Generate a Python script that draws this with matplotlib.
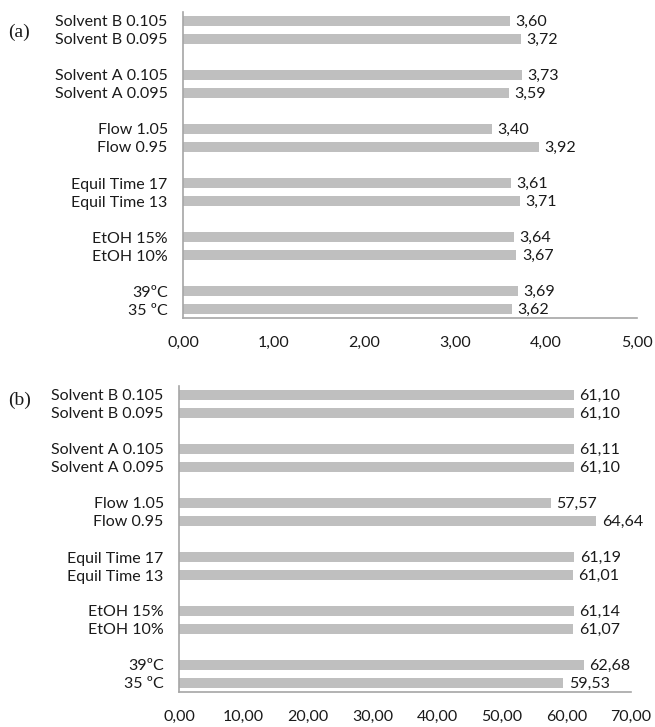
import matplotlib.pyplot as plt
from matplotlib.ticker import FuncFormatter

# categories, top to bottom
labels = ["Solvent B 0.105", "Solvent B 0.095",
          "Solvent A 0.105", "Solvent A 0.095",
          "Flow 1.05", "Flow 0.95",
          "Equil Time 17", "Equil Time 13",
          "EtOH 15%", "EtOH 10%",
          "39ºC", "35 ºC"]

values_a = [3.60, 3.72, 3.73, 3.59, 3.40, 3.92, 3.61, 3.71, 3.64, 3.67, 3.69, 3.62]
values_b = [61.10, 61.10, 61.11, 61.10, 57.57, 64.64, 61.19, 61.01, 61.14, 61.07, 62.68, 59.53]

ticks_a = [0, 1, 2, 3, 4, 5]
ticks_b = [0, 10, 20, 30, 40, 50, 60, 70]

W, H = 655, 727
BAR = "#bfbfbf"
SPINE = "#a6a6a6"
TXT = "#1a1a1a"
FONT = "Lato"
FS = 11.5


def positions():
    # pairs separated by a blank slot, listed top to bottom
    pos = []
    for i in range(len(labels)):
        group = i // 2
        pos.append(16 - group * 3 - (i % 2))
    return pos


def comma(x, _):
    return f"{x:.2f}".replace(".", ",")


def panel(fig, rect_px, values, ticks, xmax, tag, tag_y):
    left, top, right, bottom = rect_px
    ax = fig.add_axes([left / W, 1 - bottom / H, (right - left) / W, (bottom - top) / H])
    y = positions()
    ax.barh(y, values, height=0.55, color=BAR, zorder=2)
    for yy, v in zip(y, values):
        ax.annotate(comma(v, None), (v, yy), xytext=(4, -1), textcoords="offset points",
                    ha="left", va="center", fontsize=FS, color=TXT, family=FONT)
    ax.set_xlim(0, xmax)
    ax.set_ylim(-0.5, 16.5)
    ax.set_xticks(ticks)
    ax.xaxis.set_major_formatter(FuncFormatter(comma))
    ax.set_yticks(y)
    ax.set_yticklabels(labels)
    for lab in ax.get_xticklabels() + ax.get_yticklabels():
        lab.set_family(FONT)
        lab.set_fontsize(FS)
        lab.set_color(TXT)
    ax.tick_params(axis="both", length=0)
    ax.tick_params(axis="x", pad=13)
    ax.tick_params(axis="y", pad=11)
    for s in ["top", "right"]:
        ax.spines[s].set_visible(False)
    for s in ["left", "bottom"]:
        ax.spines[s].set_color(SPINE)
        ax.spines[s].set_linewidth(1.2)
    fig.text(8 / W, 1 - tag_y / H, tag, family="Liberation Serif", fontsize=14,
             va="center", ha="left", color=TXT)
    return ax


fig = plt.figure(figsize=(W / 100, H / 100), dpi=100)
panel(fig, (183, 12, 637, 318), values_a, ticks_a, 5, "(a)", 32)
panel(fig, (179, 386, 631, 692), values_b, ticks_b, 70, "(b)", 400)

plt.savefig("out.png", dpi=100)
